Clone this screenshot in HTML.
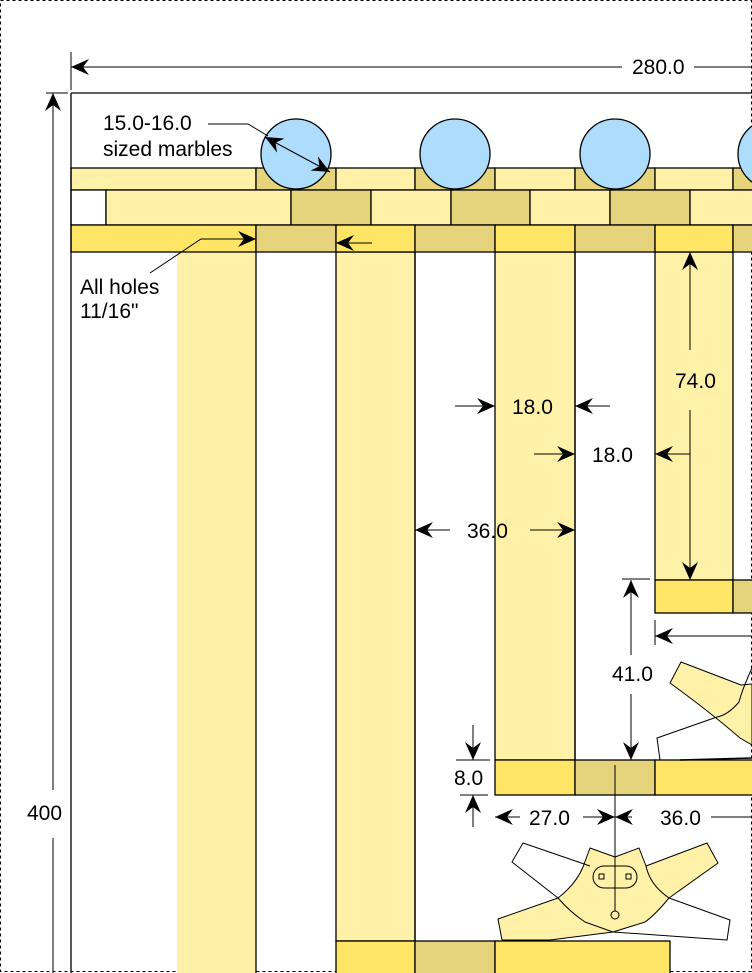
<!DOCTYPE html>
<html><head><meta charset="utf-8"><style>
html,body{margin:0;padding:0;background:#fff}
svg{display:block}
text{font-family:"Liberation Sans",Arial,sans-serif;font-size:21px;fill:#000}
</style></head><body>
<svg width="752" height="973" viewBox="0 0 752 973" xmlns="http://www.w3.org/2000/svg">
<defs>
<marker id="a" viewBox="0 0 18 16" refX="18" refY="8" markerWidth="18" markerHeight="16" markerUnits="userSpaceOnUse" orient="auto-start-reverse">
<path d="M0,0 L18,8 L0,16 L6,8 z" fill="#000"/>
</marker>
</defs>
<rect x="0.5" y="0.5" width="751" height="971" fill="none" stroke="#000" stroke-dasharray="3,3"/>
<g stroke="#000" stroke-width="1.3">
<rect x="177" y="252" width="79" height="721" fill="#FFF2A8" stroke="none"/>
<line x1="256" y1="252" x2="256" y2="973"/>
<rect x="336" y="252" width="79" height="689" fill="#FFF2A8"/>
<rect x="495" y="252" width="80" height="508" fill="#FFF2A8"/>
<rect x="655" y="252" width="78" height="328" fill="#FFF2A8"/>
<rect x="71" y="168" width="185" height="22" fill="#FFF2A8"/>
<rect x="256" y="168" width="80" height="22" fill="#E6D47C"/>
<rect x="336" y="168" width="79" height="22" fill="#FFF2A8"/>
<rect x="415" y="168" width="80" height="22" fill="#E6D47C"/>
<rect x="495" y="168" width="80" height="22" fill="#FFF2A8"/>
<rect x="575" y="168" width="80" height="22" fill="#E6D47C"/>
<rect x="655" y="168" width="78" height="22" fill="#FFF2A8"/>
<rect x="733" y="168" width="30" height="22" fill="#E6D47C"/>
<rect x="71" y="190" width="35" height="35" fill="#fff"/>
<rect x="106" y="190" width="185" height="35" fill="#FFF2A8"/>
<rect x="291" y="190" width="80" height="35" fill="#E6D47C"/>
<rect x="371" y="190" width="80" height="35" fill="#FFF2A8"/>
<rect x="451" y="190" width="79" height="35" fill="#E6D47C"/>
<rect x="530" y="190" width="80" height="35" fill="#FFF2A8"/>
<rect x="610" y="190" width="80" height="35" fill="#E6D47C"/>
<rect x="690" y="190" width="80" height="35" fill="#FFF2A8"/>
<rect x="71" y="225" width="185" height="27" fill="#FFE566"/>
<rect x="256" y="225" width="80" height="27" fill="#E6D47C"/>
<rect x="336" y="225" width="79" height="27" fill="#FFE566"/>
<rect x="415" y="225" width="80" height="27" fill="#E6D47C"/>
<rect x="495" y="225" width="80" height="27" fill="#FFE566"/>
<rect x="575" y="225" width="80" height="27" fill="#E6D47C"/>
<rect x="655" y="225" width="78" height="27" fill="#FFE566"/>
<rect x="733" y="225" width="30" height="27" fill="#E6D47C"/>
<rect x="655" y="580" width="78" height="33" fill="#FFE566"/>
<rect x="733" y="580" width="30" height="33" fill="#E6D47C"/>
<rect x="495" y="760" width="80" height="35" fill="#FFE566"/>
<rect x="575" y="760" width="80" height="35" fill="#E6D47C"/>
<rect x="655" y="760" width="110" height="35" fill="#FFE566"/>
<rect x="336" y="941" width="79" height="40" fill="#FFE566"/>
<rect x="415" y="941" width="80" height="40" fill="#E6D47C"/>
<rect x="495" y="941" width="175" height="40" fill="#FFE566"/>
<line x1="415" y1="252" x2="415" y2="941"/>
<line x1="575" y1="252" x2="575" y2="760"/>
<line x1="71" y1="93" x2="752" y2="93"/>
<line x1="71" y1="93" x2="71" y2="973"/>
<circle cx="296" cy="154" r="35" fill="#ADDCFD"/>
<circle cx="455" cy="154" r="35" fill="#ADDCFD"/>
<circle cx="615" cy="154" r="35" fill="#ADDCFD"/>
<circle cx="773" cy="154" r="35" fill="#ADDCFD"/>
</g>
<g stroke="#000" stroke-width="1" fill="none">
<line x1="71" y1="52" x2="71" y2="90"/>
<line x1="71" y1="67" x2="622" y2="67" marker-start="url(#a)"/>
<line x1="694" y1="67" x2="752" y2="67"/>
<line x1="46" y1="93" x2="68" y2="93"/>
<line x1="53" y1="93" x2="53" y2="790" marker-start="url(#a)"/>
<line x1="53" y1="838" x2="53" y2="973"/>
<polyline points="208,124 248,124 268,136"/>
<line x1="265" y1="137" x2="330" y2="172" marker-start="url(#a)" marker-end="url(#a)"/>
<polyline points="150,273 201,239 256,239" marker-end="url(#a)"/>
<line x1="372" y1="243" x2="336" y2="243" marker-end="url(#a)"/>
<line x1="455" y1="406" x2="495" y2="406" marker-end="url(#a)"/>
<line x1="610" y1="406" x2="575" y2="406" marker-end="url(#a)"/>
<line x1="534" y1="454" x2="575" y2="454" marker-end="url(#a)"/>
<line x1="690" y1="454" x2="655" y2="454" marker-end="url(#a)"/>
<line x1="450" y1="530" x2="415" y2="530" marker-end="url(#a)"/>
<line x1="530" y1="530" x2="575" y2="530" marker-end="url(#a)"/>
<line x1="690" y1="350" x2="690" y2="252" marker-end="url(#a)"/>
<line x1="690" y1="410" x2="690" y2="580" marker-end="url(#a)"/>
<line x1="622" y1="579" x2="650" y2="579"/>
<line x1="631" y1="655" x2="631" y2="580" marker-end="url(#a)"/>
<line x1="631" y1="694" x2="631" y2="760" marker-end="url(#a)"/>
<line x1="655" y1="620" x2="655" y2="645"/>
<line x1="752" y1="636" x2="655" y2="636" marker-end="url(#a)"/>
<line x1="456" y1="760" x2="490" y2="760"/>
<line x1="460" y1="795" x2="488" y2="795"/>
<line x1="473" y1="725" x2="473" y2="760" marker-end="url(#a)"/>
<line x1="473" y1="827" x2="473" y2="795" marker-end="url(#a)"/>
<line x1="520" y1="817" x2="495" y2="817" marker-end="url(#a)"/>
<line x1="583" y1="817" x2="615" y2="817" marker-end="url(#a)"/>
<line x1="632" y1="817" x2="615" y2="817" marker-end="url(#a)"/>
<line x1="711" y1="817" x2="752" y2="817"/>
</g>
<g stroke="#000" stroke-width="1" stroke-linejoin="round">
<path d="M502,940 L498,919 L558,898 Q576,884 583,867 L590,848 L615,857 L639,848 L646,866 L707,843 L718,863 L669,898 Q655,915 645,922 L613,932 L550,940 Z" fill="#FFF2A8"/>
<path d="M558,898 L512,862 L523,843 L590,866 M646,866 Q650,885 669,898 L730,920 L727,940 L613,932 L585,922 Q570,912 558,898" fill="none"/>
<rect x="593" y="866" width="44" height="22" rx="11" fill="none"/>
<rect x="599" y="874" width="5" height="5" fill="none"/>
<rect x="626" y="874" width="5" height="5" fill="none"/>
<line x1="615" y1="765" x2="615" y2="911"/>
<circle cx="615" cy="915" r="4" fill="none"/>
<path d="M670,683 L681,662 L741,685 L752,684 L752,745 L740,738 Q710,712 670,683 Z" fill="#FFF2A8"/>
<path d="M752,668 Q742,690 739,702 Q728,715 717,717 L657,738 L660,760" fill="none"/>
<line x1="680" y1="760" x2="752" y2="758" stroke-width="1.5"/>
</g>
<g>
<text x="632" y="74">280.0</text>
<text x="103" y="130">15.0-16.0</text>
<text x="103" y="156">sized marbles</text>
<text x="80" y="294">All holes</text>
<text x="80" y="318">11/16"</text>
<text x="512" y="414">18.0</text>
<text x="592" y="462">18.0</text>
<text x="467" y="538">36.0</text>
<text x="675" y="388">74.0</text>
<text x="612" y="681">41.0</text>
<text x="454" y="785">8.0</text>
<text x="529" y="825">27.0</text>
<text x="660" y="825">36.0</text>
<text x="27" y="820">400</text>
</g>
</svg>
</body></html>
